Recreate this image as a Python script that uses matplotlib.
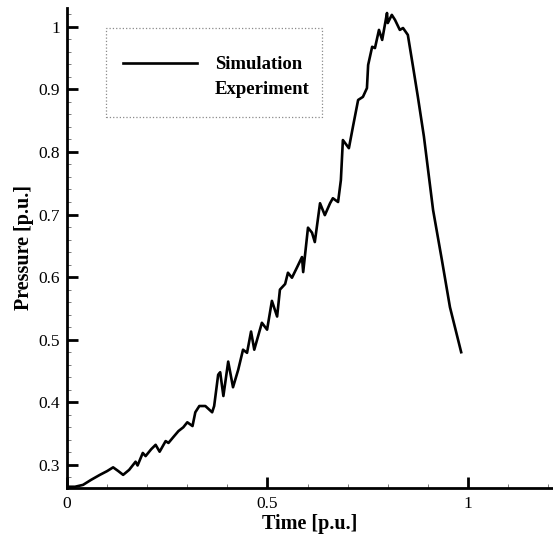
import matplotlib
matplotlib.use("Agg")
import matplotlib.pyplot as plt
from matplotlib.lines import Line2D
from matplotlib.patches import Rectangle
from matplotlib.ticker import MultipleLocator, FixedLocator

# ---- data ----
sim_time = [0.000, 0.020, 0.040, 0.060, 0.082, 0.100, 0.115, 0.128, 0.140, 0.155,
            0.171, 0.176, 0.189, 0.196, 0.210, 0.221, 0.231, 0.246, 0.253, 0.266,
            0.278, 0.290, 0.300, 0.313, 0.320, 0.330, 0.345, 0.362, 0.367, 0.377,
            0.382, 0.390, 0.402, 0.414, 0.427, 0.439, 0.449, 0.459, 0.467, 0.486,
            0.499, 0.511, 0.524, 0.531, 0.544, 0.551, 0.561, 0.574, 0.586, 0.589,
            0.601, 0.611, 0.618, 0.631, 0.643, 0.656, 0.663, 0.676, 0.683, 0.688,
            0.703, 0.713, 0.726, 0.738, 0.748, 0.751, 0.761, 0.768, 0.778, 0.786,
            0.798, 0.800, 0.810, 0.818, 0.830, 0.838, 0.850, 0.863, 0.875, 0.890,
            0.913, 0.935, 0.955, 0.983]
sim_pressure = [0.265, 0.265, 0.268, 0.276, 0.284, 0.290, 0.296, 0.290, 0.284, 0.292,
                0.305, 0.299, 0.319, 0.314, 0.325, 0.332, 0.321, 0.338, 0.335, 0.345,
                0.354, 0.360, 0.368, 0.362, 0.384, 0.394, 0.394, 0.384, 0.394, 0.444,
                0.448, 0.410, 0.465, 0.424, 0.452, 0.484, 0.479, 0.513, 0.484, 0.527,
                0.516, 0.562, 0.537, 0.580, 0.589, 0.607, 0.599, 0.616, 0.632, 0.608,
                0.679, 0.671, 0.656, 0.718, 0.699, 0.718, 0.726, 0.720, 0.755, 0.819,
                0.806, 0.840, 0.883, 0.888, 0.902, 0.939, 0.968, 0.966, 0.995, 0.979,
                1.022, 1.006, 1.019, 1.011, 0.995, 0.998, 0.987, 0.936, 0.888, 0.825,
                0.707, 0.627, 0.552, 0.480]

series_labels = ["Simulation", "Experiment"]
x_ticks = [0, 0.5, 1]
x_ticklabels = ["0", "0.5", "1"]
y_ticks = [0.3, 0.4, 0.5, 0.6, 0.7, 0.8, 0.9, 1.0]
y_ticklabels = ["0.3", "0.4", "0.5", "0.6", "0.7", "0.8", "0.9", "1"]

serif = ["Liberation Serif", "DejaVu Serif"]

W, H = 553, 541
fig = plt.figure(figsize=(W / 100, H / 100), dpi=100)
ax_l, ax_r, ax_t, ax_b = 67, 553, 8, 488
ax = fig.add_axes([ax_l / W, 1 - ax_b / H, (ax_r - ax_l) / W, (ax_b - ax_t) / H])

ax.plot(sim_time, sim_pressure, color="black", lw=1.9, solid_joinstyle="round")

ax.set_xlim(0, 1.212)
ax.set_ylim(0.263, 1.03)

for s in ["top", "right"]:
    ax.spines[s].set_visible(False)
for s in ["left", "bottom"]:
    ax.spines[s].set_linewidth(2.0)

ax.xaxis.set_major_locator(FixedLocator(x_ticks))
ax.set_xticklabels(x_ticklabels, fontfamily=serif, fontsize=12.5)
ax.xaxis.set_minor_locator(MultipleLocator(0.1))
ax.yaxis.set_major_locator(FixedLocator(y_ticks))
ax.set_yticklabels(y_ticklabels, fontfamily=serif, fontsize=12.5)
ax.yaxis.set_minor_locator(MultipleLocator(0.02))

ax.tick_params(which="major", direction="in", length=8, width=2.0, pad=6)
ax.tick_params(axis="y", which="major", pad=5)
ax.tick_params(which="minor", direction="in", length=3, width=0.6, color="#666666")

ax.set_xlabel("Time [p.u.]", fontfamily=serif, fontsize=14.5, fontweight="bold", labelpad=1)
ax.set_ylabel("Pressure [p.u.]", fontfamily=serif, fontsize=14.5, fontweight="bold", labelpad=3)

def px2ax(px, py):
    return (px - ax_l) / (ax_r - ax_l), (ax_b - py) / (ax_b - ax_t)

# legend box (dotted frame)
x0, y0 = px2ax(106, 117)
x1, y1 = px2ax(322, 28)
ax.add_patch(Rectangle((x0, y0), x1 - x0, y1 - y0, transform=ax.transAxes,
                       fill=True, facecolor="white", edgecolor="#8a8a8a",
                       linestyle=":", linewidth=0.9, zorder=4))

handles = [Line2D([], [], color="black", lw=1.9),
           Line2D([], [], color="none", lw=0)]
lx, ly = px2ax(123, 56)
leg = ax.legend(handles, series_labels, loc="upper left",
                bbox_to_anchor=(lx, ly), borderaxespad=0, borderpad=0,
                prop={"family": serif, "weight": "bold", "size": 13.5},
                handlelength=3.95, handletextpad=0.95, labelspacing=0.42,
                frameon=False)
leg.set_zorder(5)

fig.savefig("out.png", dpi=100)
